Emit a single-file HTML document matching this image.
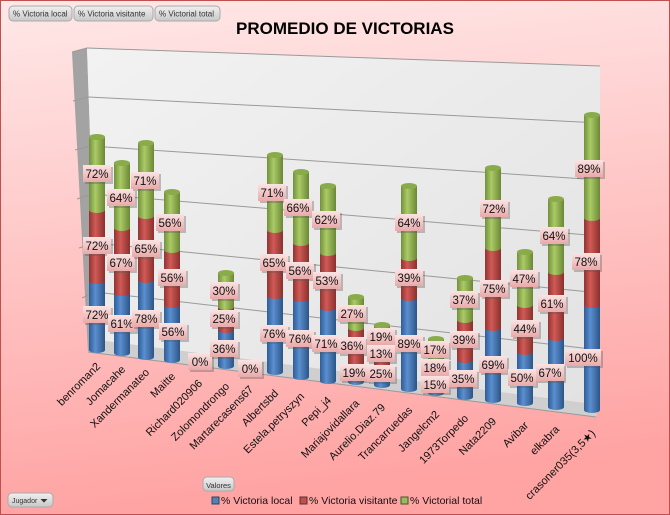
<!DOCTYPE html>
<html><head><meta charset="utf-8"><style>
html,body{margin:0;padding:0;}
body{width:670px;height:515px;overflow:hidden;}
svg{display:block;font-family:"Liberation Sans",sans-serif;}
</style></head><body>
<svg width="670" height="515" viewBox="0 0 670 515" xmlns="http://www.w3.org/2000/svg">
<defs>
<linearGradient id="bg" x1="0" y1="0" x2="0.15" y2="1"><stop offset="0" stop-color="#ffe8e8"/><stop offset="1" stop-color="#ffa3a3"/></linearGradient>
<linearGradient id="gB" x1="0" y1="0" x2="1" y2="0"><stop offset="0" stop-color="#2f5d96"/><stop offset="0.4" stop-color="#5b8fd0"/><stop offset="1" stop-color="#2c5486"/></linearGradient>
<linearGradient id="gR" x1="0" y1="0" x2="1" y2="0"><stop offset="0" stop-color="#923431"/><stop offset="0.4" stop-color="#d05a56"/><stop offset="1" stop-color="#8a302d"/></linearGradient>
<linearGradient id="gG" x1="0" y1="0" x2="1" y2="0"><stop offset="0" stop-color="#73903c"/><stop offset="0.4" stop-color="#aacb66"/><stop offset="1" stop-color="#6b8736"/></linearGradient>
<linearGradient id="lb" x1="0" y1="0" x2="0" y2="1"><stop offset="0" stop-color="#fbe3e3"/><stop offset="1" stop-color="#eaa9a9"/></linearGradient>
<linearGradient id="btn" x1="0" y1="0" x2="0" y2="1"><stop offset="0" stop-color="#f0f0f0"/><stop offset="1" stop-color="#c8c8c8"/></linearGradient>
<linearGradient id="wall" x1="0" y1="0" x2="1" y2="1"><stop offset="0" stop-color="#f2f2f2"/><stop offset="1" stop-color="#e2e2e2"/></linearGradient>
</defs>
<rect x="0.5" y="0.5" width="669" height="514" fill="url(#bg)" stroke="#c0504d"/>

<g font-size="8" fill="#333">
<rect x="9" y="6" width="63" height="15" rx="4" fill="url(#btn)" stroke="#aaa"/><text x="13" y="16.5">% Victoria local</text>
<rect x="74" y="6" width="79" height="15" rx="4" fill="url(#btn)" stroke="#aaa"/><text x="78" y="16.5">% Victoria visitante</text>
<rect x="155" y="6" width="65" height="15" rx="4" fill="url(#btn)" stroke="#aaa"/><text x="159" y="16.5">% Victorial total</text>
</g>
<text x="345" y="34" font-size="17" font-weight="bold" text-anchor="middle" fill="#000">PROMEDIO DE VICTORIAS</text>

<polygon points="72,52 87,48 97,340 88,352" fill="#a3a3a3"/>
<polygon points="87,48 600,66 600,405 97,340" fill="url(#wall)"/>
<polygon points="97,340 600,405 596,417 88,352" fill="#cfcfcf"/>
<polyline points="88,352 596,417" fill="none" stroke="#999"/>
<g stroke="#9a9a9a" stroke-width="1" fill="none">
<line x1="87" y1="48" x2="600" y2="66"/>
<line x1="89" y1="97" x2="600" y2="123"/>
<line x1="90" y1="146" x2="600" y2="180"/>
<line x1="92" y1="194" x2="600" y2="236"/>
<line x1="94" y1="243" x2="600" y2="293"/>
<line x1="95" y1="292" x2="600" y2="350"/>
<line x1="72" y1="52" x2="87" y2="48"/><line x1="73" y1="101" x2="89" y2="97"/><line x1="75" y1="150" x2="90" y2="146"/><line x1="77" y1="199" x2="92" y2="194"/><line x1="79" y1="248" x2="94" y2="243"/><line x1="82" y1="298" x2="95" y2="292"/>
</g>

<g id="bars">
<g><ellipse cx="97" cy="350" rx="8" ry="3" fill="url(#gB)"/><rect x="89" y="281" width="16" height="69" fill="url(#gB)"/><ellipse cx="97" cy="281" rx="8" ry="3" fill="url(#gR)"/><rect x="89" y="210" width="16" height="71" fill="url(#gR)"/><ellipse cx="97" cy="210" rx="8" ry="3" fill="url(#gG)"/><rect x="89" y="137" width="16" height="73" fill="url(#gG)"/><ellipse cx="97" cy="137" rx="8" ry="3" fill="#8aab4a"/></g>
<g><ellipse cx="122" cy="353" rx="8" ry="3" fill="url(#gB)"/><rect x="114" y="293" width="16" height="60" fill="url(#gB)"/><ellipse cx="122" cy="293" rx="8" ry="3" fill="url(#gR)"/><rect x="114" y="228" width="16" height="65" fill="url(#gR)"/><ellipse cx="122" cy="228" rx="8" ry="3" fill="url(#gG)"/><rect x="114" y="163" width="16" height="65" fill="url(#gG)"/><ellipse cx="122" cy="163" rx="8" ry="3" fill="#8aab4a"/></g>
<g><ellipse cx="146" cy="357" rx="8" ry="3" fill="url(#gB)"/><rect x="138" y="280" width="16" height="77" fill="url(#gB)"/><ellipse cx="146" cy="280" rx="8" ry="3" fill="url(#gR)"/><rect x="138" y="216" width="16" height="64" fill="url(#gR)"/><ellipse cx="146" cy="216" rx="8" ry="3" fill="url(#gG)"/><rect x="138" y="143" width="16" height="73" fill="url(#gG)"/><ellipse cx="146" cy="143" rx="8" ry="3" fill="#8aab4a"/></g>
<g><ellipse cx="172" cy="360" rx="8" ry="3" fill="url(#gB)"/><rect x="164" y="305" width="16" height="55" fill="url(#gB)"/><ellipse cx="172" cy="305" rx="8" ry="3" fill="url(#gR)"/><rect x="164" y="250" width="16" height="55" fill="url(#gR)"/><ellipse cx="172" cy="250" rx="8" ry="3" fill="url(#gG)"/><rect x="164" y="192" width="16" height="58" fill="url(#gG)"/><ellipse cx="172" cy="192" rx="8" ry="3" fill="#8aab4a"/></g>
<g><ellipse cx="226" cy="366" rx="8" ry="3" fill="url(#gB)"/><rect x="218" y="330" width="16" height="36" fill="url(#gB)"/><ellipse cx="226" cy="330" rx="8" ry="3" fill="url(#gR)"/><rect x="218" y="307" width="16" height="23" fill="url(#gR)"/><ellipse cx="226" cy="307" rx="8" ry="3" fill="url(#gG)"/><rect x="218" y="273" width="16" height="34" fill="url(#gG)"/><ellipse cx="226" cy="273" rx="8" ry="3" fill="#8aab4a"/></g>
<g><ellipse cx="275" cy="372" rx="8" ry="3" fill="url(#gB)"/><rect x="267" y="296" width="16" height="76" fill="url(#gB)"/><ellipse cx="275" cy="296" rx="8" ry="3" fill="url(#gR)"/><rect x="267" y="230" width="16" height="66" fill="url(#gR)"/><ellipse cx="275" cy="230" rx="8" ry="3" fill="url(#gG)"/><rect x="267" y="155" width="16" height="75" fill="url(#gG)"/><ellipse cx="275" cy="155" rx="8" ry="3" fill="#8aab4a"/></g>
<g><ellipse cx="301" cy="377" rx="8" ry="3" fill="url(#gB)"/><rect x="293" y="299" width="16" height="78" fill="url(#gB)"/><ellipse cx="301" cy="299" rx="8" ry="3" fill="url(#gR)"/><rect x="293" y="243" width="16" height="56" fill="url(#gR)"/><ellipse cx="301" cy="243" rx="8" ry="3" fill="url(#gG)"/><rect x="293" y="172" width="16" height="71" fill="url(#gG)"/><ellipse cx="301" cy="172" rx="8" ry="3" fill="#8aab4a"/></g>
<g><ellipse cx="328" cy="381" rx="8" ry="3" fill="url(#gB)"/><rect x="320" y="308" width="16" height="73" fill="url(#gB)"/><ellipse cx="328" cy="308" rx="8" ry="3" fill="url(#gR)"/><rect x="320" y="253" width="16" height="55" fill="url(#gR)"/><ellipse cx="328" cy="253" rx="8" ry="3" fill="url(#gG)"/><rect x="320" y="186" width="16" height="67" fill="url(#gG)"/><ellipse cx="328" cy="186" rx="8" ry="3" fill="#8aab4a"/></g>
<g><ellipse cx="356" cy="382" rx="8" ry="3" fill="url(#gB)"/><rect x="348" y="367" width="16" height="15" fill="url(#gB)"/><ellipse cx="356" cy="367" rx="8" ry="3" fill="url(#gR)"/><rect x="348" y="328" width="16" height="39" fill="url(#gR)"/><ellipse cx="356" cy="328" rx="8" ry="3" fill="url(#gG)"/><rect x="348" y="297" width="16" height="31" fill="url(#gG)"/><ellipse cx="356" cy="297" rx="8" ry="3" fill="#8aab4a"/></g>
<g><ellipse cx="382" cy="385" rx="8" ry="3" fill="url(#gB)"/><rect x="374" y="365" width="16" height="20" fill="url(#gB)"/><ellipse cx="382" cy="365" rx="8" ry="3" fill="url(#gR)"/><rect x="374" y="348" width="16" height="17" fill="url(#gR)"/><ellipse cx="382" cy="348" rx="8" ry="3" fill="url(#gG)"/><rect x="374" y="325" width="16" height="23" fill="url(#gG)"/><ellipse cx="382" cy="325" rx="8" ry="3" fill="#8aab4a"/></g>
<g><ellipse cx="409" cy="389" rx="8" ry="3" fill="url(#gB)"/><rect x="401" y="298" width="16" height="91" fill="url(#gB)"/><ellipse cx="409" cy="298" rx="8" ry="3" fill="url(#gR)"/><rect x="401" y="258" width="16" height="40" fill="url(#gR)"/><ellipse cx="409" cy="258" rx="8" ry="3" fill="url(#gG)"/><rect x="401" y="186" width="16" height="72" fill="url(#gG)"/><ellipse cx="409" cy="186" rx="8" ry="3" fill="#8aab4a"/></g>
<g><ellipse cx="436" cy="393" rx="8" ry="3" fill="url(#gB)"/><rect x="428" y="378" width="16" height="15" fill="url(#gB)"/><ellipse cx="436" cy="378" rx="8" ry="3" fill="url(#gR)"/><rect x="428" y="358" width="16" height="20" fill="url(#gR)"/><ellipse cx="436" cy="358" rx="8" ry="3" fill="url(#gG)"/><rect x="428" y="339" width="16" height="19" fill="url(#gG)"/><ellipse cx="436" cy="339" rx="8" ry="3" fill="#8aab4a"/></g>
<g><ellipse cx="465" cy="397" rx="8" ry="3" fill="url(#gB)"/><rect x="457" y="360" width="16" height="37" fill="url(#gB)"/><ellipse cx="465" cy="360" rx="8" ry="3" fill="url(#gR)"/><rect x="457" y="320" width="16" height="40" fill="url(#gR)"/><ellipse cx="465" cy="320" rx="8" ry="3" fill="url(#gG)"/><rect x="457" y="278" width="16" height="42" fill="url(#gG)"/><ellipse cx="465" cy="278" rx="8" ry="3" fill="#8aab4a"/></g>
<g><ellipse cx="493" cy="400" rx="8" ry="3" fill="url(#gB)"/><rect x="485" y="328" width="16" height="72" fill="url(#gB)"/><ellipse cx="493" cy="328" rx="8" ry="3" fill="url(#gR)"/><rect x="485" y="248" width="16" height="80" fill="url(#gR)"/><ellipse cx="493" cy="248" rx="8" ry="3" fill="url(#gG)"/><rect x="485" y="168" width="16" height="80" fill="url(#gG)"/><ellipse cx="493" cy="168" rx="8" ry="3" fill="#8aab4a"/></g>
<g><ellipse cx="525" cy="403" rx="8" ry="3" fill="url(#gB)"/><rect x="517" y="352" width="16" height="51" fill="url(#gB)"/><ellipse cx="525" cy="352" rx="8" ry="3" fill="url(#gR)"/><rect x="517" y="305" width="16" height="47" fill="url(#gR)"/><ellipse cx="525" cy="305" rx="8" ry="3" fill="url(#gG)"/><rect x="517" y="252" width="16" height="53" fill="url(#gG)"/><ellipse cx="525" cy="252" rx="8" ry="3" fill="#8aab4a"/></g>
<g><ellipse cx="556" cy="407" rx="8" ry="3" fill="url(#gB)"/><rect x="548" y="338" width="16" height="69" fill="url(#gB)"/><ellipse cx="556" cy="338" rx="8" ry="3" fill="url(#gR)"/><rect x="548" y="272" width="16" height="66" fill="url(#gR)"/><ellipse cx="556" cy="272" rx="8" ry="3" fill="url(#gG)"/><rect x="548" y="199" width="16" height="73" fill="url(#gG)"/><ellipse cx="556" cy="199" rx="8" ry="3" fill="#8aab4a"/></g>
<g><ellipse cx="592" cy="410" rx="8" ry="3" fill="url(#gB)"/><rect x="584" y="305" width="16" height="105" fill="url(#gB)"/><ellipse cx="592" cy="305" rx="8" ry="3" fill="url(#gR)"/><rect x="584" y="218" width="16" height="87" fill="url(#gR)"/><ellipse cx="592" cy="218" rx="8" ry="3" fill="url(#gG)"/><rect x="584" y="115" width="16" height="103" fill="url(#gG)"/><ellipse cx="592" cy="115" rx="8" ry="3" fill="#8aab4a"/></g>
</g>

<g font-size="11.5" text-anchor="middle" fill="#111">
<rect x="85" y="167" width="28" height="17" fill="#555" opacity=".35"/><rect x="83" y="165" width="28" height="17" fill="url(#lb)"/><text x="97" y="178">72%</text>
<rect x="85" y="239" width="28" height="17" fill="#555" opacity=".35"/><rect x="83" y="237" width="28" height="17" fill="url(#lb)"/><text x="97" y="250">72%</text>
<rect x="85" y="308" width="28" height="17" fill="#555" opacity=".35"/><rect x="83" y="306" width="28" height="17" fill="url(#lb)"/><text x="97" y="319">72%</text>
<rect x="109" y="191" width="28" height="17" fill="#555" opacity=".35"/><rect x="107" y="189" width="28" height="17" fill="url(#lb)"/><text x="121" y="202">64%</text>
<rect x="109" y="256" width="28" height="17" fill="#555" opacity=".35"/><rect x="107" y="254" width="28" height="17" fill="url(#lb)"/><text x="121" y="267">67%</text>
<rect x="110" y="317" width="28" height="17" fill="#555" opacity=".35"/><rect x="108" y="315" width="28" height="17" fill="url(#lb)"/><text x="122" y="328">61%</text>
<rect x="133" y="174" width="28" height="17" fill="#555" opacity=".35"/><rect x="131" y="172" width="28" height="17" fill="url(#lb)"/><text x="145" y="185">71%</text>
<rect x="134" y="242" width="28" height="17" fill="#555" opacity=".35"/><rect x="132" y="240" width="28" height="17" fill="url(#lb)"/><text x="146" y="253">65%</text>
<rect x="134" y="312" width="28" height="17" fill="#555" opacity=".35"/><rect x="132" y="310" width="28" height="17" fill="url(#lb)"/><text x="146" y="323">78%</text>
<rect x="158" y="216" width="28" height="17" fill="#555" opacity=".35"/><rect x="156" y="214" width="28" height="17" fill="url(#lb)"/><text x="170" y="227">56%</text>
<rect x="160" y="271" width="28" height="17" fill="#555" opacity=".35"/><rect x="158" y="269" width="28" height="17" fill="url(#lb)"/><text x="172" y="282">56%</text>
<rect x="161" y="325" width="28" height="17" fill="#555" opacity=".35"/><rect x="159" y="323" width="28" height="17" fill="url(#lb)"/><text x="173" y="336">56%</text>
<rect x="190" y="355" width="24" height="17" fill="#555" opacity=".35"/><rect x="188" y="353" width="24" height="17" fill="url(#lb)"/><text x="200" y="366">0%</text>
<rect x="212" y="284" width="28" height="17" fill="#555" opacity=".35"/><rect x="210" y="282" width="28" height="17" fill="url(#lb)"/><text x="224" y="295">30%</text>
<rect x="212" y="312" width="28" height="17" fill="#555" opacity=".35"/><rect x="210" y="310" width="28" height="17" fill="url(#lb)"/><text x="224" y="323">25%</text>
<rect x="212" y="342" width="28" height="17" fill="#555" opacity=".35"/><rect x="210" y="340" width="28" height="17" fill="url(#lb)"/><text x="224" y="353">36%</text>
<rect x="240" y="362" width="24" height="17" fill="#555" opacity=".35"/><rect x="238" y="360" width="24" height="17" fill="url(#lb)"/><text x="250" y="373">0%</text>
<rect x="260" y="186" width="28" height="17" fill="#555" opacity=".35"/><rect x="258" y="184" width="28" height="17" fill="url(#lb)"/><text x="272" y="197">71%</text>
<rect x="262" y="256" width="28" height="17" fill="#555" opacity=".35"/><rect x="260" y="254" width="28" height="17" fill="url(#lb)"/><text x="274" y="267">65%</text>
<rect x="262" y="327" width="28" height="17" fill="#555" opacity=".35"/><rect x="260" y="325" width="28" height="17" fill="url(#lb)"/><text x="274" y="338">76%</text>
<rect x="286" y="201" width="28" height="17" fill="#555" opacity=".35"/><rect x="284" y="199" width="28" height="17" fill="url(#lb)"/><text x="298" y="212">66%</text>
<rect x="288" y="264" width="28" height="17" fill="#555" opacity=".35"/><rect x="286" y="262" width="28" height="17" fill="url(#lb)"/><text x="300" y="275">56%</text>
<rect x="288" y="332" width="28" height="17" fill="#555" opacity=".35"/><rect x="286" y="330" width="28" height="17" fill="url(#lb)"/><text x="300" y="343">76%</text>
<rect x="314" y="213" width="28" height="17" fill="#555" opacity=".35"/><rect x="312" y="211" width="28" height="17" fill="url(#lb)"/><text x="326" y="224">62%</text>
<rect x="315" y="274" width="28" height="17" fill="#555" opacity=".35"/><rect x="313" y="272" width="28" height="17" fill="url(#lb)"/><text x="327" y="285">53%</text>
<rect x="314" y="337" width="28" height="17" fill="#555" opacity=".35"/><rect x="312" y="335" width="28" height="17" fill="url(#lb)"/><text x="326" y="348">71%</text>
<rect x="340" y="307" width="28" height="17" fill="#555" opacity=".35"/><rect x="338" y="305" width="28" height="17" fill="url(#lb)"/><text x="352" y="318">27%</text>
<rect x="340" y="339" width="28" height="17" fill="#555" opacity=".35"/><rect x="338" y="337" width="28" height="17" fill="url(#lb)"/><text x="352" y="350">36%</text>
<rect x="342" y="366" width="28" height="17" fill="#555" opacity=".35"/><rect x="340" y="364" width="28" height="17" fill="url(#lb)"/><text x="354" y="377">19%</text>
<rect x="369" y="330" width="28" height="17" fill="#555" opacity=".35"/><rect x="367" y="328" width="28" height="17" fill="url(#lb)"/><text x="381" y="341">19%</text>
<rect x="369" y="347" width="28" height="17" fill="#555" opacity=".35"/><rect x="367" y="345" width="28" height="17" fill="url(#lb)"/><text x="381" y="358">13%</text>
<rect x="369" y="367" width="28" height="17" fill="#555" opacity=".35"/><rect x="367" y="365" width="28" height="17" fill="url(#lb)"/><text x="381" y="378">25%</text>
<rect x="397" y="216" width="28" height="17" fill="#555" opacity=".35"/><rect x="395" y="214" width="28" height="17" fill="url(#lb)"/><text x="409" y="227">64%</text>
<rect x="397" y="271" width="28" height="17" fill="#555" opacity=".35"/><rect x="395" y="269" width="28" height="17" fill="url(#lb)"/><text x="409" y="282">39%</text>
<rect x="397" y="337" width="28" height="17" fill="#555" opacity=".35"/><rect x="395" y="335" width="28" height="17" fill="url(#lb)"/><text x="409" y="348">89%</text>
<rect x="423" y="343" width="28" height="17" fill="#555" opacity=".35"/><rect x="421" y="341" width="28" height="17" fill="url(#lb)"/><text x="435" y="354">17%</text>
<rect x="423" y="361" width="28" height="17" fill="#555" opacity=".35"/><rect x="421" y="359" width="28" height="17" fill="url(#lb)"/><text x="435" y="372">18%</text>
<rect x="423" y="378" width="28" height="17" fill="#555" opacity=".35"/><rect x="421" y="376" width="28" height="17" fill="url(#lb)"/><text x="435" y="389">15%</text>
<rect x="452" y="293" width="28" height="17" fill="#555" opacity=".35"/><rect x="450" y="291" width="28" height="17" fill="url(#lb)"/><text x="464" y="304">37%</text>
<rect x="452" y="333" width="28" height="17" fill="#555" opacity=".35"/><rect x="450" y="331" width="28" height="17" fill="url(#lb)"/><text x="464" y="344">39%</text>
<rect x="451" y="372" width="28" height="17" fill="#555" opacity=".35"/><rect x="449" y="370" width="28" height="17" fill="url(#lb)"/><text x="463" y="383">35%</text>
<rect x="482" y="202" width="28" height="17" fill="#555" opacity=".35"/><rect x="480" y="200" width="28" height="17" fill="url(#lb)"/><text x="494" y="213">72%</text>
<rect x="482" y="282" width="28" height="17" fill="#555" opacity=".35"/><rect x="480" y="280" width="28" height="17" fill="url(#lb)"/><text x="494" y="293">75%</text>
<rect x="481" y="358" width="28" height="17" fill="#555" opacity=".35"/><rect x="479" y="356" width="28" height="17" fill="url(#lb)"/><text x="493" y="369">69%</text>
<rect x="512" y="272" width="28" height="17" fill="#555" opacity=".35"/><rect x="510" y="270" width="28" height="17" fill="url(#lb)"/><text x="524" y="283">47%</text>
<rect x="513" y="322" width="28" height="17" fill="#555" opacity=".35"/><rect x="511" y="320" width="28" height="17" fill="url(#lb)"/><text x="525" y="333">44%</text>
<rect x="510" y="371" width="28" height="17" fill="#555" opacity=".35"/><rect x="508" y="369" width="28" height="17" fill="url(#lb)"/><text x="522" y="382">50%</text>
<rect x="542" y="229" width="28" height="17" fill="#555" opacity=".35"/><rect x="540" y="227" width="28" height="17" fill="url(#lb)"/><text x="554" y="240">64%</text>
<rect x="540" y="297" width="28" height="17" fill="#555" opacity=".35"/><rect x="538" y="295" width="28" height="17" fill="url(#lb)"/><text x="552" y="308">61%</text>
<rect x="538" y="366" width="28" height="17" fill="#555" opacity=".35"/><rect x="536" y="364" width="28" height="17" fill="url(#lb)"/><text x="550" y="377">67%</text>
<rect x="577" y="162" width="28" height="17" fill="#555" opacity=".35"/><rect x="575" y="160" width="28" height="17" fill="url(#lb)"/><text x="589" y="173">89%</text>
<rect x="574" y="255" width="28" height="17" fill="#555" opacity=".35"/><rect x="572" y="253" width="28" height="17" fill="url(#lb)"/><text x="586" y="266">78%</text>
<rect x="567" y="351" width="36" height="17" fill="#555" opacity=".35"/><rect x="565" y="349" width="36" height="17" fill="url(#lb)"/><text x="583" y="362">100%</text>
</g>

<g font-size="11" fill="#111" text-anchor="end">
<text transform="translate(101,367) rotate(-45)">benroman2</text>
<text transform="translate(126,370) rotate(-45)">Jomacahe</text>
<text transform="translate(150,373) rotate(-45)">Xandermanateo</text>
<text transform="translate(176,377) rotate(-45)">Maitte</text>
<text transform="translate(203,384) rotate(-45)">Richard020906</text>
<text transform="translate(230,387) rotate(-45)">Zolomondrongo</text>
<text transform="translate(254,390) rotate(-45)">Martarecasens67</text>
<text transform="translate(279,394) rotate(-45)">Albertsbd</text>
<text transform="translate(305,397) rotate(-45)">Estela.petryszyn</text>
<text transform="translate(332,401) rotate(-45)">Pepi_j4</text>
<text transform="translate(360,404) rotate(-45)">Mariajovidallara</text>
<text transform="translate(386,408) rotate(-45)">Aurelio.Diaz.79</text>
<text transform="translate(413,411) rotate(-45)">Trancarruedas</text>
<text transform="translate(440,415) rotate(-45)">Jangelcm2</text>
<text transform="translate(469,419) rotate(-45)">1973Torpedo</text>
<text transform="translate(497,422) rotate(-45)">Nata2209</text>
<text transform="translate(529,426) rotate(-45)">Avibar</text>
<text transform="translate(560,430) rotate(-45)">elkabra</text>
<text transform="translate(596,434) rotate(-45)">crasoner035(3,5★)</text>
</g>

<rect x="203" y="477" width="31" height="14" rx="4" fill="url(#btn)" stroke="#aaa"/><text x="218.5" y="488" font-size="7.5" text-anchor="middle" fill="#333">Valores</text>
<rect x="8" y="493" width="45" height="14" rx="4" fill="url(#btn)" stroke="#aaa"/><text x="12" y="503" font-size="7" fill="#333">Jugador</text>
<text x="40" y="504" font-size="10" fill="#333">⏷</text>
<g font-size="10.5" fill="#111">
<rect x="212" y="497" width="7" height="7" fill="#4f81bd" stroke="#345"/><text x="221" y="504">% Victoria local</text>
<rect x="300" y="497" width="7" height="7" fill="#c0504d" stroke="#533"/><text x="309" y="504">% Victoria visitante</text>
<rect x="401" y="497" width="7" height="7" fill="#9bbb59" stroke="#453"/><text x="410" y="504">% Victorial total</text>
</g>
</svg>
</body></html>
